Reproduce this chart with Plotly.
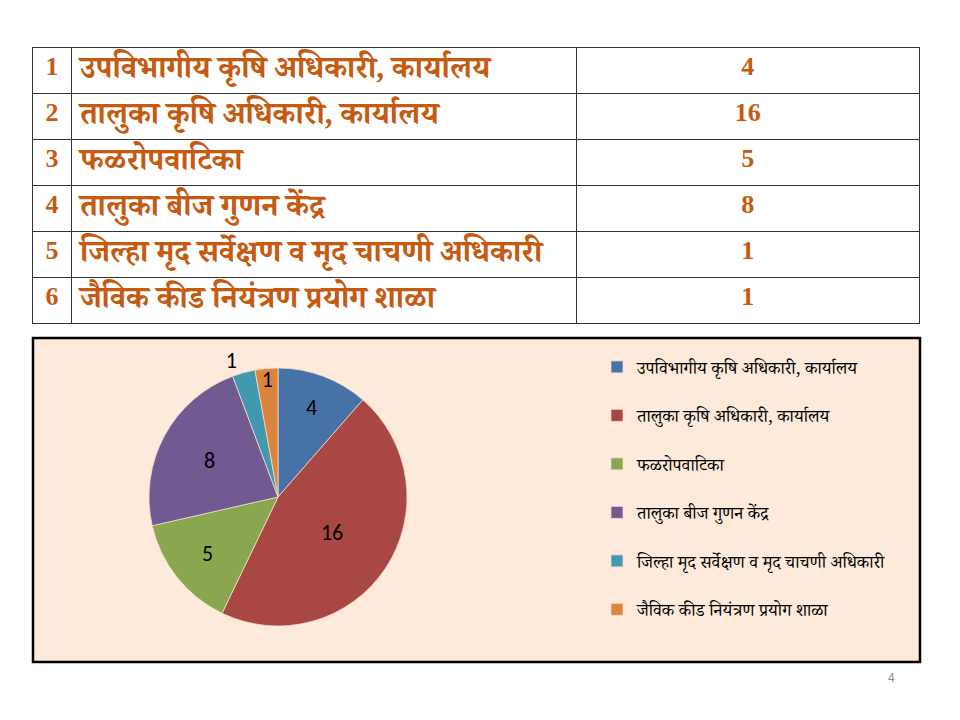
import plotly.graph_objects as go

nums = ["1", "2", "3", "4", "5", "6"]
names = [
    "उपविभागीय कृषि अधिकारी, कार्यालय",
    "तालुका कृषि अधिकारी, कार्यालय",
    "फळरोपवाटिका",
    "तालुका बीज गुणन केंद्र",
    "जिल्हा मृद सर्वेक्षण व मृद चाचणी अधिकारी",
    "जैविक कीड नियंत्रण प्रयोग शाळा",
]
values = [4, 16, 5, 8, 1, 1]
colors = ["#4672A8", "#A94744", "#8AA64F", "#715A91", "#4198AF", "#DB843D"]
text_pos = ["inside", "inside", "inside", "inside", "outside", "inside"]

W, H = 960, 720
OFF = 8  # page body margin
def px(x): return (x - OFF) / W
def py(y): return 1 - (y - OFF) / H

tfont = "Liberation Serif, Noto Serif Devanagari, Noto Sans Devanagari, Lohit Devanagari, serif"
tcolor = "#C55A11"
tsizes = [26, 31, 26]
pfont = "Carlito, Liberation Sans, Open Sans, sans-serif"

fig = go.Figure()

fig.add_trace(go.Table(
    domain=dict(x=[px(32), px(920)], y=[py(324), py(47)]),
    columnwidth=[40, 505, 343],
    header=dict(
        values=[nums[0], names[0], str(values[0])],
        align=["center", "left", "center"],
        height=46,
        fill_color="white",
        line=dict(color="#333333", width=1),
        font=dict(family=tfont, size=tsizes, color=tcolor, weight="bold"),
    ),
    cells=dict(
        values=[nums[1:], names[1:], [str(v) for v in values[1:]]],
        align=["center", "left", "center"],
        height=46,
        fill_color="white",
        line=dict(color="#333333", width=1),
        font=dict(family=tfont, size=tsizes, color=tcolor, weight="bold"),
    ),
))

fig.add_trace(go.Pie(
    labels=[n + "<br> " for n in names],
    values=values,
    sort=False,
    direction="clockwise",
    rotation=0,
    marker=dict(colors=colors, line=dict(color="#F2DCCB", width=0.8)),
    textinfo="value",
    textposition=text_pos,
    textfont=dict(family=pfont, size=22, color="black"),
    insidetextfont=dict(family=pfont, size=22, color="black"),
    outsidetextfont=dict(family=pfont, size=22, color="black"),
    insidetextorientation="horizontal",
    domain=dict(x=[px(149), px(407)], y=[py(626), py(368)]),
    showlegend=True,
))

fig.update_layout(
    width=W, height=H,
    margin=dict(l=0, r=0, t=0, b=0),
    paper_bgcolor="white",
    plot_bgcolor="white",
    uniformtext=dict(minsize=22, mode="show"),
    shapes=[dict(type="rect", xref="paper", yref="paper",
                 x0=px(33), x1=px(920), y0=py(662), y1=py(338),
                 fillcolor="#FDEADA", line=dict(color="black", width=2.5),
                 layer="below")],
    legend=dict(
        x=px(597), y=py(349), xanchor="left", yanchor="top",
        bgcolor="rgba(0,0,0,0)",
        font=dict(family="Noto Serif Devanagari, Lohit Devanagari, Noto Sans Devanagari, serif", size=17.5, color="black"),
        valign="top",
        itemwidth=30,
    ),
    annotations=[dict(text="4", x=px(897), y=py(687), xref="paper", yref="paper",
                      showarrow=False, font=dict(family="Liberation Sans, sans-serif", size=12, color="#8C8C8C"))],
)

fig.write_html("out.html")
